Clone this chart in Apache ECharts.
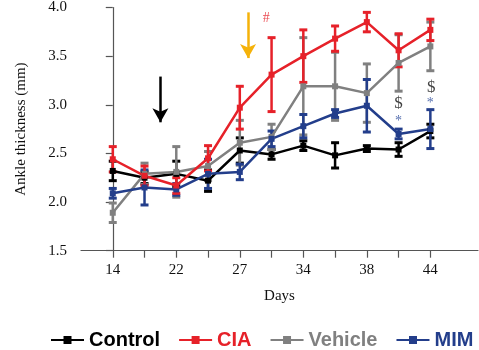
<!DOCTYPE html>
<html>
<head>
<meta charset="utf-8">
<script src="https://cdn.jsdelivr.net/npm/echarts@6/dist/echarts.min.js"></script>
<style>html,body{margin:0;padding:0;background:#fff;}#c{width:479px;height:350px;}</style>
</head>
<body>
<div id="c"></div>
<script>
// Tick labels (day) for each measured time point index
const dayLabels = ['14','','22','','27','','34','','38','','44'];
const control    = [2.32,2.25,2.29,2.22,2.53,2.49,2.58,2.48,2.55,2.54,2.73];
const controlErr = [0.10,0.06,0.13,0.11,0.13,0.05,0.05,0.13,0.03,0.07,0.07];
const cia        = [2.44,2.27,2.17,2.45,2.97,3.31,3.50,3.68,3.85,3.56,3.77];
const ciaErr     = [0.13,0.10,0.08,0.13,0.22,0.38,0.27,0.13,0.10,0.17,0.11];
const vehicle    = [1.89,2.29,2.31,2.37,2.61,2.67,3.19,3.19,3.12,3.43,3.60];
const vehicleErr = [0.10,0.11,0.26,0.15,0.23,0.13,0.50,0.35,0.30,0.29,0.25];
const mim        = [2.09,2.15,2.13,2.29,2.31,2.65,2.78,2.91,2.99,2.70,2.75];
const mimErr     = [0.05,0.18,0.06,0.15,0.08,0.08,0.12,0.04,0.27,0.05,0.20];
// annotations (x index, y value, text, colour)
const annoX = [4.83, 9.0, 10.03, 9.0, 10.0];
const annoY = [3.89, 3.01, 3.18, 2.83, 3.02];
const annoText = ['#', '$', '$', '*', '*'];
const annoColor = ['#e62129', '#111111', '#111111', '#2a4a9a', '#2a4a9a'];
// arrows: [x, yStart, yEnd]
const blackArrow = [1.5, 3.29, 2.82];
const yellowArrow = [4.26, 3.95, 3.48];

const C = {Control:'#000000', CIA:'#e62129', Vehicle:'#808080', MIM:'#233e8b'};
const groups = [
  ['Control', control, controlErr],
  ['Vehicle', vehicle, vehicleErr],
  ['MIM', mim, mimErr],
  ['CIA', cia, ciaErr]
];

const chart = echarts.init(document.getElementById('c'));
const series = [];
groups.forEach(([name, vals, errs]) => {
  const color = C[name];
  series.push({
    name: name + '_err', type: 'custom', z: 2,
    data: vals.map((v, i) => [i, v - errs[i], v + errs[i]]),
    renderItem: (params, api) => {
      const lo = api.coord([api.value(0), api.value(1)]);
      const hi = api.coord([api.value(0), api.value(2)]);
      const w = 4;
      const st = {stroke: color, lineWidth: 2.5};
      return {type: 'group', children: [
        {type: 'line', shape: {x1: lo[0], y1: lo[1], x2: hi[0], y2: hi[1]}, style: st},
        {type: 'line', shape: {x1: lo[0]-w, y1: lo[1], x2: lo[0]+w, y2: lo[1]}, style: {stroke: color, lineWidth: 3}},
        {type: 'line', shape: {x1: hi[0]-w, y1: hi[1], x2: hi[0]+w, y2: hi[1]}, style: {stroke: color, lineWidth: 3}}
      ]};
    },
    silent: true
  });
  series.push({
    name: name, type: 'line', z: 3,
    data: vals.map((v, i) => [i, v]),
    symbol: 'rect', symbolSize: 6,
    showSymbol: true,
    lineStyle: {color: color, width: 2.5},
    itemStyle: {color: color},
    emphasis: {disabled: true}
  });
});
series.push({
  type: 'line', data: [], silent: true,
  markLine: {
    silent: true, symbol: ['none', 'arrow'], symbolSize: [12, 14],
    label: {show: false},
    data: [
      [{coord: [blackArrow[0], blackArrow[1]], lineStyle: {color: '#000', width: 2.5, type: 'solid'}, itemStyle: {color: '#000'}},
       {coord: [blackArrow[0], blackArrow[2]]}],
      [{coord: [yellowArrow[0], yellowArrow[1]], lineStyle: {color: '#f5b20a', width: 2.5, type: 'solid'}, itemStyle: {color: '#f5b20a'}},
       {coord: [yellowArrow[0], yellowArrow[2]]}]
    ]
  }
});
series.push({
  type: 'scatter', silent: true, z: 5,
  symbol: 'circle', symbolSize: 2, itemStyle: {color: 'rgba(0,0,0,0)'},
  data: annoX.map((x, i) => ({
    value: [x, annoY[i]],
    label: {show: true, position: 'inside', formatter: annoText[i], color: annoColor[i],
      fontFamily: 'Liberation Serif', fontSize: annoText[i] === '$' ? 17 : 14}
  }))
});

chart.setOption({
  animation: false,
  grid: {left: 81, right: 1, top: 7.3, bottom: 99.3, containLabel: false},
  xAxis: {
    type: 'value', min: -1, max: 11.5, interval: 1,
    name: 'Days', nameLocation: 'middle', nameGap: 38,
    nameTextStyle: {fontFamily: 'Liberation Serif', fontSize: 15, color: '#111'},
    axisLine: {show: true, lineStyle: {color: '#555', width: 1.2}},
    axisTick: {show: true, customValues: [0,1,2,3,4,5,6,7,8,9,10], length: 7, lineStyle: {color: '#555', width: 1.2}},
    axisLabel: {customValues: [0,2,4,6,8,10], formatter: v => dayLabels[Math.round(v)] || '',
      fontFamily: 'Liberation Serif', fontSize: 15, color: '#111', margin: 12},
    splitLine: {show: false}
  },
  yAxis: {
    type: 'value', min: 1.5, max: 4.0, interval: 0.5,
    name: 'Ankle thickness (mm)', nameLocation: 'middle', nameGap: 52,
    nameTextStyle: {fontFamily: 'Liberation Serif', fontSize: 15, color: '#111'},
    axisLine: {show: true, lineStyle: {color: '#555', width: 1.2}},
    axisTick: {show: true, length: 7, lineStyle: {color: '#555', width: 1.2}},
    axisLabel: {formatter: v => v.toFixed(1), fontFamily: 'Liberation Serif', fontSize: 15, color: '#111', margin: 14},
    splitLine: {show: false}
  },
  legend: {
    top: 325, left: 45, itemGap: 18, itemWidth: 33, itemHeight: 10,
    textStyle: {fontFamily: 'Liberation Sans', fontWeight: 'bold', fontSize: 20},
    data: ['Control', 'CIA', 'Vehicle', 'MIM'].map(n => ({name: n, textStyle: {color: C[n]}}))
  },
  series: series
});
</script>
</body>
</html>
